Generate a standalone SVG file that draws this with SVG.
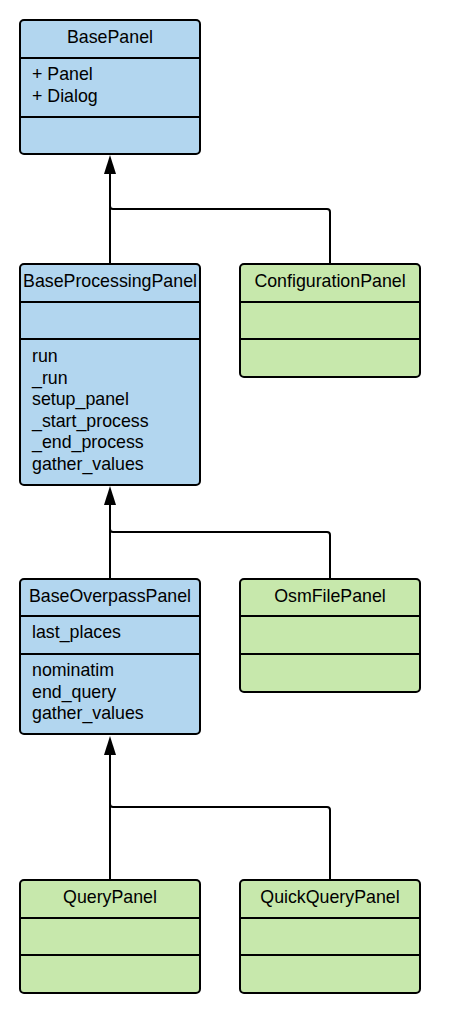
<svg xmlns="http://www.w3.org/2000/svg" width="454" height="1012" viewBox="0 0 454 1012">
<style>
.box{stroke:#000;stroke-width:2}
.blue{fill:#b2d6ef}
.green{fill:#c7e8ac}
.div{stroke:#000;stroke-width:2}
.t{font-family:"Liberation Sans",Arial,sans-serif;font-size:17.8px;fill:#000}
.c{text-anchor:middle}
.edge{fill:none;stroke:#000;stroke-width:2}
.head{fill:#000}
</style>
<rect width="454" height="1012" fill="#fff"/>
<g id="connectors">
<path class="edge" d="M110,264 V172"/>
<path class="edge" d="M330,264 V212 Q330,209 327,209 H113 Q110,209 110,206"/>
<polygon class="head" points="110,155 104,174 116,174"/>
<path class="edge" d="M110,579 V502"/>
<path class="edge" d="M330,579 V535 Q330,532 327,532 H113 Q110,532 110,529"/>
<polygon class="head" points="110,486 104,505 116,505"/>
<path class="edge" d="M110,880 V752"/>
<path class="edge" d="M330,880 V810 Q330,807 327,807 H113 Q110,807 110,804"/>
<polygon class="head" points="110,736 104,755 116,755"/>
</g>
<g id="BasePanel">
<rect class="box blue" x="20" y="20" width="180" height="134" rx="4"/>
<line class="div" x1="20" y1="58" x2="200" y2="58"/>
<line class="div" x1="20" y1="117" x2="200" y2="117"/>
<text class="t c" x="110" y="43">BasePanel</text>
<text class="t" x="32" y="80">+ Panel</text>
<text class="t" x="32" y="102">+ Dialog</text>
</g>
<g id="BaseProcessingPanel">
<rect class="box blue" x="20" y="264" width="180" height="221" rx="4"/>
<line class="div" x1="20" y1="302" x2="200" y2="302"/>
<line class="div" x1="20" y1="339" x2="200" y2="339"/>
<text class="t c" x="110" y="287">BaseProcessingPanel</text>
<text class="t" x="32" y="362">run</text>
<text class="t" x="32" y="383.5">_run</text>
<text class="t" x="32" y="405">setup_panel</text>
<text class="t" x="32" y="426.5">_start_process</text>
<text class="t" x="32" y="448">_end_process</text>
<text class="t" x="32" y="469.5">gather_values</text>
</g>
<g id="ConfigurationPanel">
<rect class="box green" x="240" y="264" width="180" height="113" rx="4"/>
<line class="div" x1="240" y1="302" x2="420" y2="302"/>
<line class="div" x1="240" y1="339" x2="420" y2="339"/>
<text class="t c" x="330" y="287">ConfigurationPanel</text>
</g>
<g id="BaseOverpassPanel">
<rect class="box blue" x="20" y="579" width="180" height="155" rx="4"/>
<line class="div" x1="20" y1="616" x2="200" y2="616"/>
<line class="div" x1="20" y1="654" x2="200" y2="654"/>
<text class="t c" x="110" y="602">BaseOverpassPanel</text>
<text class="t" x="32" y="638">last_places</text>
<text class="t" x="32" y="676">nominatim</text>
<text class="t" x="32" y="697.5">end_query</text>
<text class="t" x="32" y="719">gather_values</text>
</g>
<g id="OsmFilePanel">
<rect class="box green" x="240" y="579" width="180" height="113" rx="4"/>
<line class="div" x1="240" y1="616" x2="420" y2="616"/>
<line class="div" x1="240" y1="654" x2="420" y2="654"/>
<text class="t c" x="330" y="602">OsmFilePanel</text>
</g>
<g id="QueryPanel">
<rect class="box green" x="20" y="880" width="180" height="113" rx="4"/>
<line class="div" x1="20" y1="918" x2="200" y2="918"/>
<line class="div" x1="20" y1="955" x2="200" y2="955"/>
<text class="t c" x="110" y="903">QueryPanel</text>
</g>
<g id="QuickQueryPanel">
<rect class="box green" x="240" y="880" width="180" height="113" rx="4"/>
<line class="div" x1="240" y1="918" x2="420" y2="918"/>
<line class="div" x1="240" y1="955" x2="420" y2="955"/>
<text class="t c" x="330" y="903">QuickQueryPanel</text>
</g>
</svg>
